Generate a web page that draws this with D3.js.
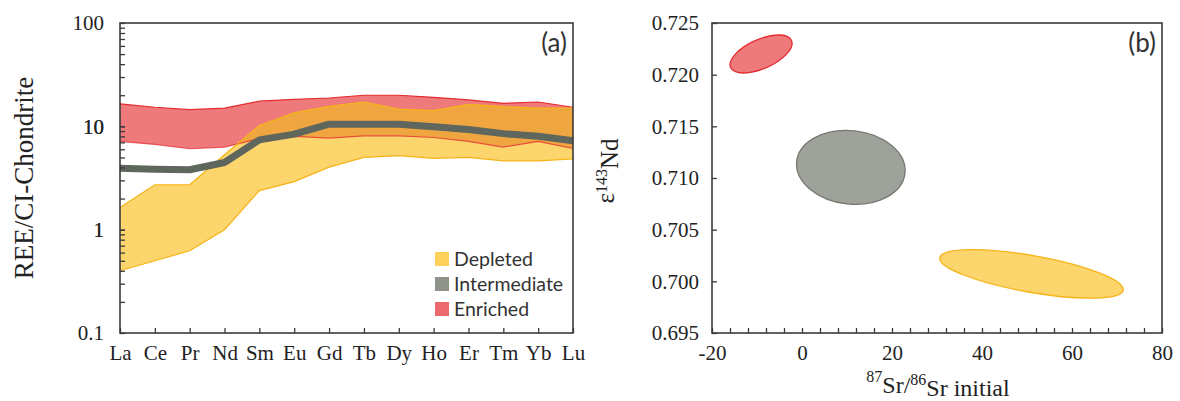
<!DOCTYPE html>
<html>
<head>
<meta charset="utf-8">
<script src="https://cdn.jsdelivr.net/npm/d3@7"></script>
<style>
  html, body { margin: 0; padding: 0; background: #fff; }
  svg { display: block; }
  .tick text { font-family: "Liberation Serif", "Times New Roman", serif; font-size: 21px; fill: #222; }
</style>
</head>
<body>
<svg id="chart" width="1180" height="401"></svg>
<script>
// ---------- Data: panel (a) REE patterns ----------
const elements = ["La","Ce","Pr","Nd","Sm","Eu","Gd","Tb","Dy","Ho","Er","Tm","Yb","Lu"];
const enrichedUpper = [16.5,15.3,14.5,15.0,17.5,18.2,18.8,20.0,20.0,19.1,18.0,16.7,17.2,15.3];
const enrichedLower = [7.15,6.7,6.07,6.3,7.6,8.0,7.7,8.1,8.1,7.8,7.15,6.3,7.15,6.1];
const depletedUpper = [1.64,2.72,2.72,5.3,10.2,13.5,15.6,17.2,14.7,14.2,16.3,15.5,15.0,15.0];
const depletedLower = [0.40,0.50,0.625,1.0,2.39,2.92,4.03,5.0,5.2,4.9,5.0,4.64,4.64,4.85];
const intermediate  = [3.94,3.85,3.8,4.47,7.4,8.4,10.5,10.5,10.5,9.9,9.3,8.5,8.0,7.25];
const yTicksA = [0.1,1,10,100];
const yTickLabelsA = ["0.1","1","10","100"];
const legendLabels = ["Depleted","Intermediate","Enriched"];

// ---------- Data: panel (b) isotope fields (ellipses) ----------
const fieldNames = ["Enriched","Intermediate","Depleted"];
const fieldCx    = [-9.1, 10.85, 51.0];          // 87Sr/86Sr initial
const fieldCy    = [0.7220, 0.71103, 0.70072];   // e143Nd
const fieldA     = [7.4, 12.1, 20.7];            // semi-major (x units)
const fieldB     = [0.00141, 0.00355, 0.00178];  // semi-minor (y units)
const fieldAngle = [-24, 6.3, 10];               // rotation, degrees
const xTicksB = [-20,0,20,40,60,80];
const yTicksB = [0.695,0.700,0.705,0.710,0.715,0.720,0.725];

// ---------- Styles ----------
const C = {
  redFill: "#ee7a7c", redStroke: "#e52a30",
  yelFill: "#fcd56c", yelStroke: "#f6b316",
  overlap: "#f0a640",
  interLine: "#5f665d",
  legYel: "#fcd25c", legGray: "#8e9389", legRed: "#ec6a6e",
  grayFill: "#9ea29a", grayStroke: "#737870",
  frame: "#3a3a3a"
};

const svg = d3.select("#chart");
const serif = '"Liberation Serif", "Times New Roman", serif';
const sans = 'Lato, "Open Sans", sans-serif';

// ================= Panel (a) =================
const A = {left: 120, right: 573, top: 23, bottom: 333};
const xA = d3.scalePoint().domain(elements).range([A.left, A.right]).padding(0);
const yA = d3.scaleLog().domain([0.1, 100]).range([A.bottom, A.top]);

const gA = svg.append("g");
const area = (up, lo) => d3.area()
  .x((d, i) => xA(elements[i]))
  .y0((d, i) => yA(lo[i]))
  .y1((d, i) => yA(up[i]))(elements);

const redPath = area(enrichedUpper, enrichedLower);
const yelPath = area(depletedUpper, depletedLower);

svg.append("defs").append("clipPath").attr("id", "clipRed")
  .append("path").attr("d", redPath);

gA.append("path").attr("d", redPath).attr("fill", C.redFill);
gA.append("path").attr("d", yelPath).attr("fill", C.yelFill);
gA.append("path").attr("d", yelPath).attr("fill", C.overlap).attr("clip-path", "url(#clipRed)");

// outlines
const lineGen = d3.line().x((d, i) => xA(elements[i])).y(d => yA(d));
gA.append("path").attr("d", lineGen(enrichedUpper)).attr("fill", "none").attr("stroke", C.redStroke).attr("stroke-width", 1.2);
gA.append("path").attr("d", lineGen(enrichedLower)).attr("fill", "none").attr("stroke", C.redStroke).attr("stroke-width", 1.2).attr("stroke-opacity", 0.75);
gA.append("path").attr("d", lineGen(depletedUpper)).attr("fill", "none").attr("stroke", C.yelStroke).attr("stroke-width", 1.2);
gA.append("path").attr("d", lineGen(depletedLower)).attr("fill", "none").attr("stroke", C.yelStroke).attr("stroke-width", 1.2);

gA.append("path").attr("d", lineGen(intermediate)).attr("fill", "none")
  .attr("stroke", C.interLine).attr("stroke-width", 7).attr("stroke-linejoin", "round");

// axes (a)
const minorA = [];
[0.1, 1, 10].forEach(b => { for (let k = 1; k <= 10; k++) minorA.push(+(b * k).toPrecision(3)); });
const yAxisA = d3.axisLeft(yA).tickValues(minorA)
  .tickFormat(d => { const i = yTicksA.findIndex(v => Math.abs(v - d) < 1e-9); return i >= 0 ? yTickLabelsA[i] : ""; })
  .tickSizeInner(-5).tickSizeOuter(0).tickPadding(16);
const gyA = gA.append("g").attr("transform", `translate(${A.left},0)`).call(yAxisA);
gyA.select(".domain").remove();
gyA.selectAll(".tick line").attr("stroke", C.frame).attr("stroke-width", 1.3);

const xAxisA = d3.axisBottom(xA).tickSizeInner(-5).tickSizeOuter(0).tickPadding(12);
const gxA = gA.append("g").attr("transform", `translate(0,${A.bottom})`).call(xAxisA);
gxA.select(".domain").remove();
gxA.selectAll(".tick line").attr("stroke", C.frame).attr("stroke-width", 1.3);

gA.append("rect").attr("x", A.left).attr("y", A.top)
  .attr("width", A.right - A.left).attr("height", A.bottom - A.top)
  .attr("fill", "none").attr("stroke", C.frame).attr("stroke-width", 1.6);

gA.append("text").attr("transform", `translate(24,178) rotate(-90)`)
  .attr("text-anchor", "middle").attr("dy", "0.35em")
  .style("font-family", serif).style("font-size", "27px").style("fill", "#222")
  .text("REE/CI-Chondrite");

gA.append("text").attr("x", A.right - 6).attr("y", 52).attr("text-anchor", "end")
  .style("font-family", sans).style("font-size", "26px").style("fill", "#333").text("(a)");

// legend
const legColors = [C.legYel, C.legGray, C.legRed];
const leg = gA.append("g").attr("transform", "translate(435,259)");
legendLabels.forEach((lab, i) => {
  const row = leg.append("g").attr("transform", `translate(0,${i * 25})`);
  row.append("rect").attr("x", 0).attr("y", -7).attr("width", 14).attr("height", 14).attr("fill", legColors[i]);
  row.append("text").attr("x", 19).attr("y", 0).attr("dy", "0.35em")
    .style("font-family", sans).style("font-size", "19.5px").style("fill", "#333").text(lab);
});

// ================= Panel (b) =================
const B = {left: 712, right: 1162, top: 23, bottom: 333};
const xB = d3.scaleLinear().domain([-20, 80]).range([B.left, B.right]);
const yB = d3.scaleLinear().domain([0.695, 0.725]).range([B.bottom, B.top]);
const gB = svg.append("g");

const fieldFill = [C.redFill, C.grayFill, C.yelFill];
const fieldStroke = [C.redStroke, C.grayStroke, C.yelStroke];
fieldNames.forEach((n, i) => {
  const cx = xB(fieldCx[i]), cy = yB(fieldCy[i]);
  const rx = xB(fieldCx[i] + fieldA[i]) - cx;
  const ry = cy - yB(fieldCy[i] + fieldB[i]);
  gB.append("ellipse")
    .attr("transform", `translate(${cx},${cy}) rotate(${fieldAngle[i]})`)
    .attr("rx", rx).attr("ry", ry)
    .attr("fill", fieldFill[i]).attr("stroke", fieldStroke[i]).attr("stroke-width", 1.3);
});

const xMinorB = d3.range(-20, 80.001, 4);
const xAxisB = d3.axisBottom(xB).tickValues(xMinorB)
  .tickFormat(d => xTicksB.includes(d) ? String(d) : "")
  .tickSizeInner(-5).tickSizeOuter(0).tickPadding(12);
const gxB = gB.append("g").attr("transform", `translate(0,${B.bottom})`).call(xAxisB);
gxB.select(".domain").remove();
gxB.selectAll(".tick line").attr("stroke", C.frame).attr("stroke-width", 1.3);

const yAxisB = d3.axisLeft(yB).tickValues(yTicksB).tickFormat(d3.format(".3f"))
  .tickSizeInner(-5).tickSizeOuter(0).tickPadding(13);
const gyB = gB.append("g").attr("transform", `translate(${B.left},0)`).call(yAxisB);
gyB.select(".domain").remove();
gyB.selectAll(".tick line").attr("stroke", C.frame).attr("stroke-width", 1.3);

gB.append("rect").attr("x", B.left).attr("y", B.top)
  .attr("width", B.right - B.left).attr("height", B.bottom - B.top)
  .attr("fill", "none").attr("stroke", C.frame).attr("stroke-width", 1.6);

gB.append("text").attr("x", B.right - 6).attr("y", 52).attr("text-anchor", "end")
  .style("font-family", sans).style("font-size", "26px").style("fill", "#333").text("(b)");

// x title
const xt = gB.append("text").attr("x", 938).attr("y", 389).attr("text-anchor", "middle")
  .style("font-family", serif).style("font-size", "24px").style("fill", "#222");
xt.append("tspan").attr("dy", "-0.45em").style("font-size", "16px").text("87");
xt.append("tspan").attr("dy", "0.45em").text("Sr/");
xt.append("tspan").attr("dy", "-0.45em").style("font-size", "16px").text("86");
xt.append("tspan").attr("dy", "0.45em").text("Sr initial");

// y title
const yt = gB.append("text").attr("transform", "translate(614,171) rotate(-90)")
  .attr("text-anchor", "middle")
  .style("font-family", serif).style("font-size", "25px").style("fill", "#222");
yt.append("tspan").text("ε");
yt.append("tspan").attr("dy", "-0.45em").style("font-size", "16px").text("143");
yt.append("tspan").attr("dy", "0.45em").text("Nd");
</script>
</body>
</html>
